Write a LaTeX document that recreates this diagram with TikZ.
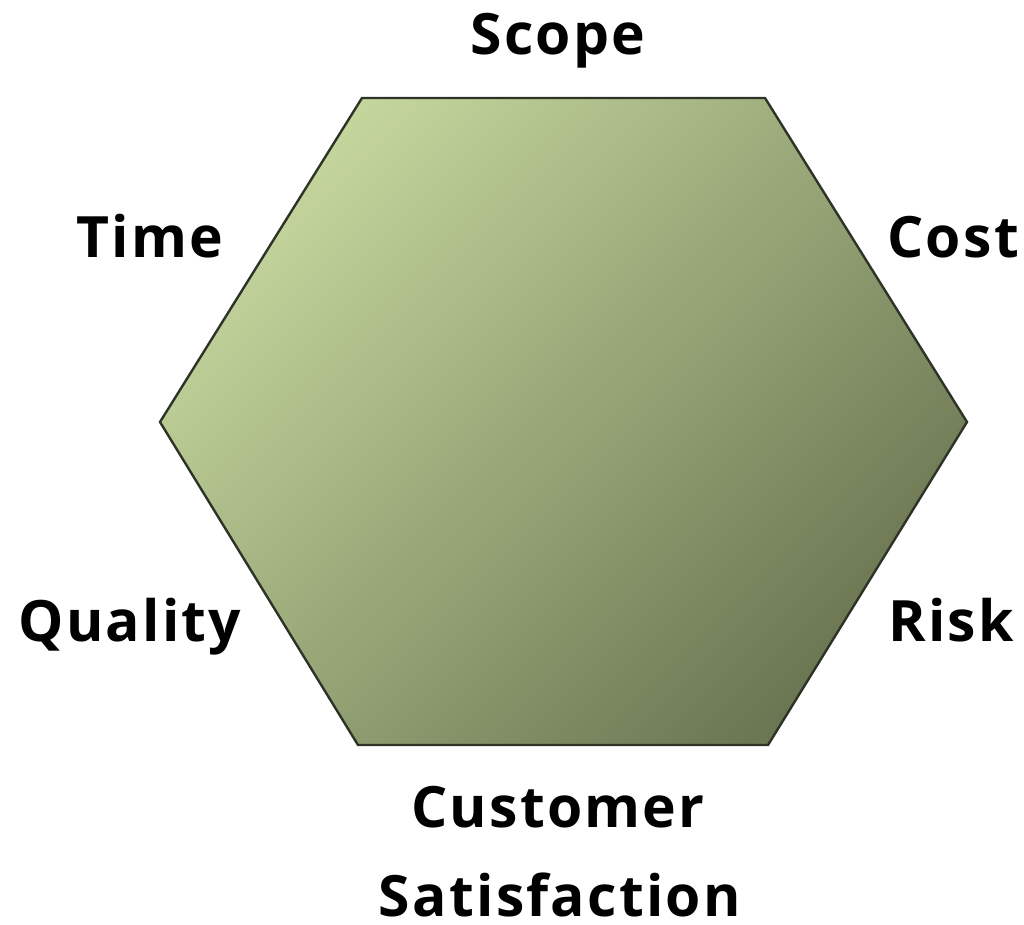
\documentclass[tikz,border=0pt]{standalone}
\usepackage{fontspec}
\setmainfont{Open Sans}[LetterSpace=4]
\begin{document}
\begin{tikzpicture}[x=1pt,y=1pt,
  lbl/.style={font=\fontsize{57}{60}\selectfont\bfseries, text=black, inner sep=0pt, anchor=base}]
\definecolor{hexlight}{HTML}{C4D59C}
\definecolor{hexdark}{HTML}{6B7652}
\definecolor{hexedge}{HTML}{2E3328}
\useasboundingbox (0,0) rectangle (1024,924);
% hexagon body with diagonal shading
\path[top color=hexlight, bottom color=hexdark, shading angle=45]
  (362,826) -- (765,826) -- (967,502) -- (768,179) -- (358,179) -- (160,502) -- cycle;
\draw[hexedge, line width=2.4pt, line join=miter]
  (362,826) -- (765,826) -- (967,502) -- (768,179) -- (358,179) -- (160,502) -- cycle;
% dimension labels
\node[lbl] (scope) at (558,869) {Scope};
\node[lbl] (time) at (150,666) {Time};
\node[lbl] (cost) at (953,666) {Cost};
\node[lbl] (quality) at (130,283) {Quality};
\node[lbl] (risk) at (951,283) {Risk};
\node[lbl] (cust) at (558,97) {Customer};
\node[lbl, text depth=0pt] (satis) at (560,8) {Satisfaction};
\end{tikzpicture}
\end{document}
